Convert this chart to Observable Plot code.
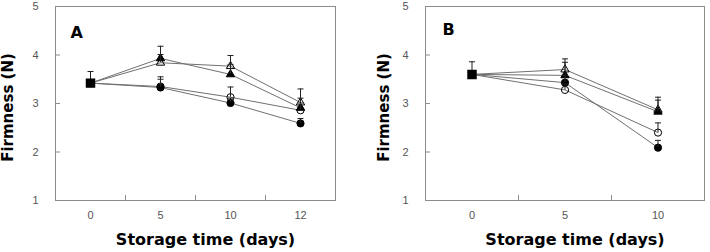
<!DOCTYPE html>
<html><head><meta charset="utf-8">
<script src="https://cdn.jsdelivr.net/npm/d3@7"></script>
<script src="https://cdn.jsdelivr.net/npm/@observablehq/plot@0.6"></script>
<style>
body{margin:0;background:#fff;}
#wrap{position:relative;width:710px;height:252px;overflow:hidden;background:#fff;}
#a,#b{position:absolute;top:0;}
#a{left:0}#b{left:355px}
</style></head><body><div id="wrap"><div id="a"></div><div id="b"></div></div>
<script>
// ---- data ----
const treatments = ["openTriangle", "filledTriangle", "openCircle", "filledCircle"];
const yTicks = [1, 2, 3, 4, 5];

const daysA = ["0", "5", "10", "12"];
const openTriangleA   = [3.42, 3.84, 3.77, 3.02];
const filledTriangleA = [3.42, 3.93, 3.60, 2.91];
const openCircleA     = [3.42, 3.35, 3.13, 2.86];
const filledCircleA   = [3.42, 3.33, 3.01, 2.59];
const openTriangleErrA   = [0.24, 0.17, 0.22, 0.28];
const filledTriangleErrA = [0.24, 0.25, 0.20, 0.20];
const openCircleErrA     = [0.24, 0.15, 0.21, 0.15];
const filledCircleErrA   = [0.24, 0.22, 0.10, 0.10];

const daysB = ["0", "5", "10"];
const openTriangleB   = [3.60, 3.70, 2.87];
const filledTriangleB = [3.60, 3.58, 2.83];
const openCircleB     = [3.60, 3.28, 2.40];
const filledCircleB   = [3.60, 3.43, 2.09];
const openTriangleErrB   = [0.26, 0.22, 0.20];
const filledTriangleErrB = [0.26, 0.27, 0.30];
const openCircleErrB     = [0.26, 0.12, 0.20];
const filledCircleErrB   = [0.26, 0.15, 0.15];

// ---- styles ----
const symbolOf = {filledCircle: "circle", openCircle: "circle", filledTriangle: "triangle", openTriangle: "triangle"};
const fillOf = {filledCircle: "black", openCircle: "none", filledTriangle: "black", openTriangle: "none"};
const cap = {draw(ctx) { ctx.moveTo(-3, 0); ctx.lineTo(3, 0); }};
const FONT = "'Liberation Sans', Arial, sans-serif";
const TITLEFONT = "'DejaVu Sans', sans-serif";

function panel(el, days, series, errs, letter, o) {
  const rows = [];
  treatments.forEach((t, k) => days.forEach((d, i) =>
    rows.push({t, i, day: d, v: series[k][i], sd: errs[k][i]})));
  const later = rows.filter(r => r.i > 0);
  const first = rows.filter(r => r.i === 0 && r.t === treatments[0]);
  const errRows = rows.filter(r => r.i > 0 || r.t === treatments[0]);
  const dotMarks = treatments.map(t => Plot.dot(later.filter(r => r.t === t), {
    x: "i", y: "v", symbol: symbolOf[t], fill: fillOf[t], stroke: "black", strokeWidth: 1,
    r: symbolOf[t] === "triangle" ? 3.1 : 3.6
  }));
  const chart = Plot.plot({
    width: 355, height: 252,
    marginLeft: o.ml, marginRight: o.mr, marginTop: 6, marginBottom: 52,
    x: {type: "linear", domain: [-0.5, days.length - 0.5], axis: null, label: null},
    y: {domain: [1, 5], axis: null, label: null},
    style: {fontFamily: FONT, background: "white", overflow: "visible"},
    marks: [
      Plot.frame({stroke: "#8c8c8c"}),
      Plot.axisY({ticks: yTicks, tickFormat: d3.format("d"), tickSize: 0, tickPadding: 17, fill: "#555", fontSize: 11, label: null}),
      Plot.axisY({ticks: yTicks.slice(1, -1), tickSize: -5, tickFormat: () => "", stroke: "#8c8c8c", label: null}),
      Plot.axisX({ticks: d3.range(days.length), tickFormat: i => days[i], tickSize: 0, tickPadding: 11, fill: "#555", fontSize: 11, label: null}),
      Plot.axisX({ticks: d3.range(1, days.length).map(i => i - 0.5), tickSize: -5, tickFormat: () => "", stroke: "#8c8c8c", label: null}),
      Plot.line(rows, {x: "i", y: "v", z: "t", stroke: "#707070", strokeWidth: 1}),
      ...dotMarks,
      Plot.ruleX(errRows, {x: "i", y1: "v", y2: d => d.v + d.sd, stroke: "#222", strokeWidth: 1}),
      Plot.dot(errRows, {x: "i", y: d => d.v + d.sd, symbol: cap, fill: "none", stroke: "#222", strokeWidth: 1}),
      Plot.dot(first, {x: "i", y: "v", symbol: "square", fill: "black", stroke: "black", r: 4.5}),
      Plot.text([letter], {frameAnchor: "top-left", dx: o.ldx, dy: o.ldy, lineAnchor: "middle", textAnchor: "start",
        fontWeight: "bold", fontSize: 16, fontFamily: TITLEFONT, fill: "black"}),
      Plot.text(["Storage time (days)"], {frameAnchor: "bottom", dx: o.tdx, dy: 39, lineAnchor: "middle", textAnchor: "middle",
        fontWeight: "bold", fontSize: 16, fontFamily: TITLEFONT, fill: "black"}),
      Plot.text(["Firmness (N)"], {frameAnchor: "left", dx: o.ydx, dy: 4, rotate: -90, lineAnchor: "middle", textAnchor: "middle",
        fontWeight: "bold", fontSize: 15, fontFamily: TITLEFONT, fill: "black"})
    ]
  });
  document.getElementById(el).appendChild(chart);
}

panel("a", daysA,
  [openTriangleA, filledTriangleA, openCircleA, filledCircleA],
  [openTriangleErrA, filledTriangleErrA, openCircleErrA, filledCircleErrA],
  "A", {ml: 55, mr: 20, ldx: 15, ldy: 26, tdx: 10, ydx: -47});
panel("b", daysB,
  [openTriangleB, filledTriangleB, openCircleB, filledCircleB],
  [openTriangleErrB, filledTriangleErrB, openCircleErrB, filledCircleErrB],
  "B", {ml: 70, mr: 6, ldx: 17, ldy: 23, tdx: 10, ydx: -41});
</script></body></html>
